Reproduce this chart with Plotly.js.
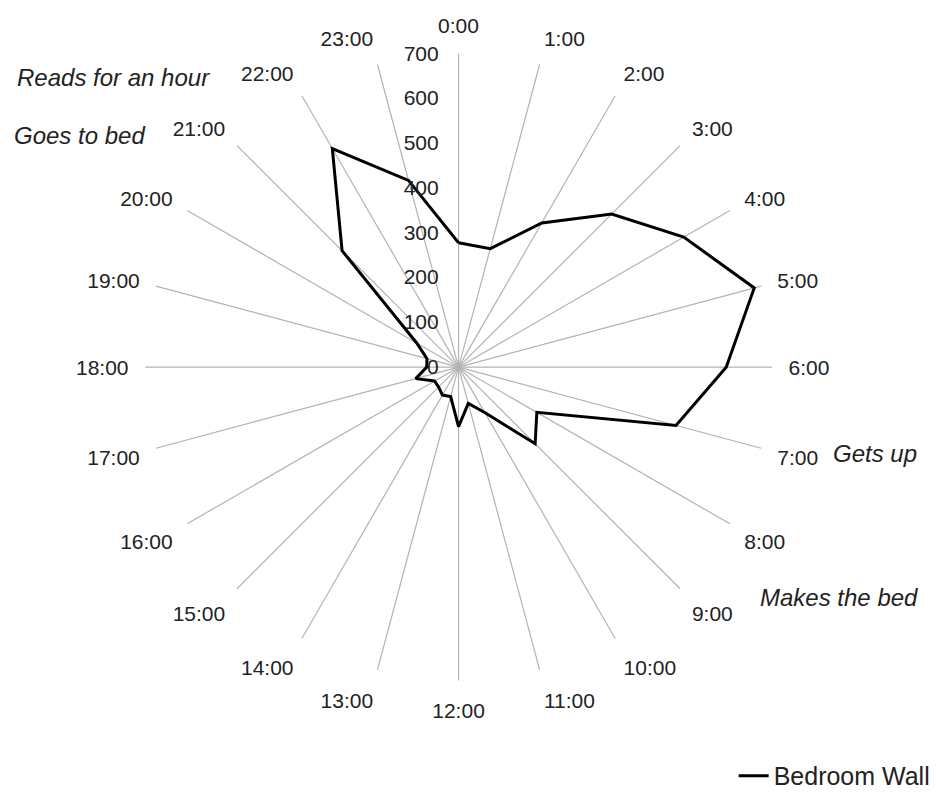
<!DOCTYPE html>
<html>
<head>
<meta charset="utf-8">
<script src="https://cdn.plot.ly/plotly-3.0.1.min.js"></script>
<style>
  html, body { margin: 0; padding: 0; background: #ffffff; }
  #chart { width: 936px; height: 799px; }
</style>
</head>
<body>
<div id="chart"></div>
<script>
const hours = ["0:00","1:00","2:00","3:00","4:00","5:00","6:00","7:00","8:00","9:00","10:00","11:00",
               "12:00","13:00","14:00","15:00","16:00","17:00","18:00","19:00","20:00","21:00","22:00","23:00"];
const bedroomWall = [278, 274, 372, 484, 581, 684, 598, 503, 202, 242, 117, 84,
                     133, 68, 72, 63, 62, 99, 71, 73, 108, 368, 564, 432];
const radialTicks = [0, 100, 200, 300, 400, 500, 600, 700];
const seriesName = "Bedroom Wall";
const notes = [
  {text: "Reads for an hour", x: 0.016, y: 0.902},
  {text: "Goes to bed", x: 0.013, y: 0.830},
  {text: "Gets up", x: 0.893, y: 0.429},
  {text: "Makes the bed", x: 0.814, y: 0.248}
];

const FONT = "Liberation Sans, Arial, sans-serif";
const TXT = "#222222";

const trace = {
  type: "scatterpolar",
  mode: "lines",
  name: seriesName,
  r: bedroomWall.concat([bedroomWall[0]]),
  theta: hours.concat([hours[0]]),
  line: {color: "#000000", width: 3},
  showlegend: true,
  hoverinfo: "skip"
};

const layout = {
  width: 936,
  height: 799,
  margin: {l: 0, r: 0, t: 0, b: 0},
  paper_bgcolor: "#ffffff",
  plot_bgcolor: "#ffffff",
  font: {family: FONT, size: 21, color: TXT},
  showlegend: true,
  legend: {
    x: 1.005, xanchor: "right", y: -0.005, yanchor: "bottom",
    font: {family: FONT, size: 25, color: TXT},
    bgcolor: "rgba(0,0,0,0)"
  },
  polar: {
    domain: {x: [146/936, 776/936], y: [1 - 684/799, 1 - 54/799]},
    bgcolor: "#ffffff",
    angularaxis: {
      type: "category",
      categoryarray: hours,
      direction: "clockwise",
      rotation: 90,
      showline: false,
      showgrid: true,
      gridcolor: "#b3b3b3",
      gridwidth: 1.2,
      ticks: "outside",
      ticklen: 12,
      tickcolor: "rgba(0,0,0,0)",
      tickfont: {family: FONT, size: 21, color: TXT}
    },
    radialaxis: {
      range: [0, 700],
      tickvals: radialTicks,
      angle: 90,
      side: "counterclockwise",
      showline: false,
      showgrid: false,
      ticks: "outside",
      ticklen: 12,
      tickcolor: "rgba(0,0,0,0)",
      tickangle: 90,
      tickfont: {family: FONT, size: 21, color: TXT}
    }
  },
  annotations: notes.map(n => ({
    text: n.text, x: n.x, y: n.y, xref: "paper", yref: "paper",
    xanchor: "left", yanchor: "middle", showarrow: false,
    font: {family: FONT, size: 24, color: TXT, style: "italic"}
  }))
};

Plotly.newPlot("chart", [trace], layout, {displayModeBar: false, staticPlot: true});
</script>
</body>
</html>
